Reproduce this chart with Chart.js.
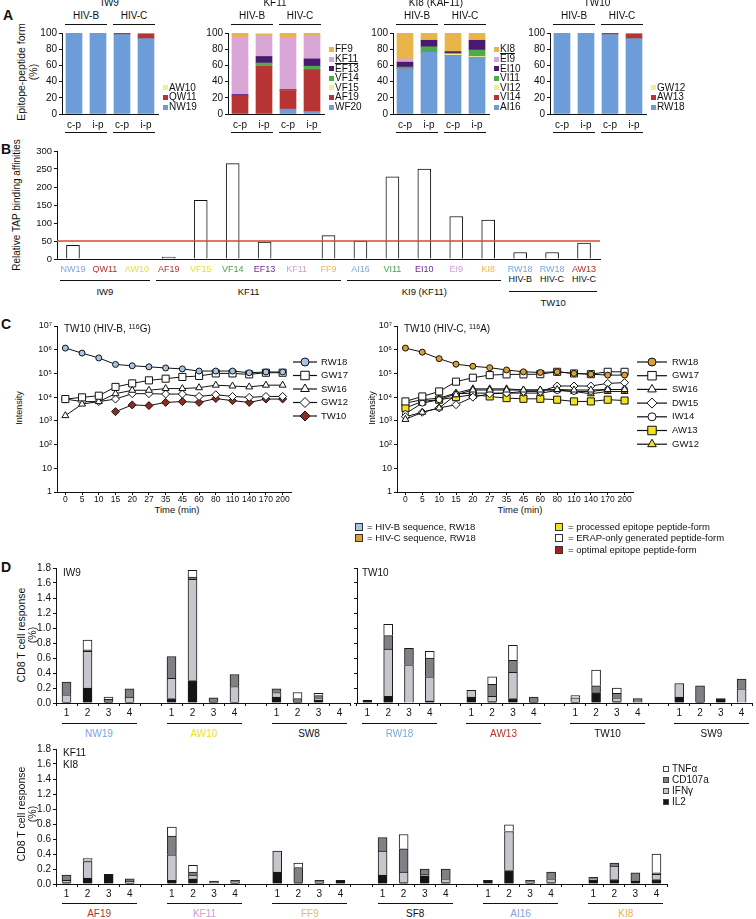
<!DOCTYPE html>
<html>
<head>
<meta charset="utf-8">
<script src="https://cdn.jsdelivr.net/npm/chart.js@4.4.1/dist/chart.umd.min.js"></script>
<style>
  body { margin: 0; background: #fff; }
  #fig { position: relative; width: 756px; height: 919px; overflow: hidden; background: #fff;
         font-family: "Liberation Sans", Arial, sans-serif; color: #111; }
  .t { position: absolute; white-space: nowrap; line-height: 1; }
  .hl { position: absolute; height: 0; border-top: 1.4px solid #111; }
  .sq { position: absolute; box-sizing: border-box; }
  canvas { position: absolute; }
  sup { font-size: 70%; vertical-align: 0.45em; line-height: 0; }
</style>
</head>
<body>
<div id="fig"></div>
<script>
// ---------- panel A : peptide forms (% of total), stacked bottom -> top ----------
const aCats = ['c-p', 'i-p', 'c-p', 'i-p'];
const aClades = ['HIV-B', 'HIV-C'];

const iw9Forms = ['NW19', 'QW11', 'AW10'];
const iw9Pct = [[100, 100, 98, 93], [0, 0, 2, 6], [0, 0, 0, 0.6]];

const kf11Forms = ['WF20', 'AF19', 'VF15', 'VF14', 'EF13', 'KF11', 'FF9'];
const kf11Pct = [
  [0, 0, 6, 3],
  [22, 59, 23, 52],
  [0, 0, 0, 0],
  [0, 4, 0, 4],
  [2, 8, 1, 9],
  [71, 26, 64, 28],
  [5, 2, 6, 4]
];

const ki8Forms = ['AI16', 'VI14', 'VI12', 'VI11', 'EI10', 'EI9', 'KI8'];
const ki8Pct = [
  [56, 76, 72, 70],
  [0, 0, 0, 0],
  [0, 0, 2, 1],
  [2, 7, 1, 8],
  [6, 8, 2, 12],
  [4, 0, 0, 0],
  [32, 9, 23, 9]
];

const tw10Forms = ['RW18', 'AW13', 'GW12'];
const tw10Pct = [[100, 100, 98, 93], [0, 0, 2, 6], [0, 0, 0, 0.6]];

// ---------- panel B : relative TAP binding ----------
const tapCats = ['NW19', 'QW11', 'AW10', 'AF19', 'VF15', 'VF14', 'EF13', 'KF11', 'FF9',
                 'AI16', 'VI11', 'EI10', 'EI9', 'KI8', 'RW18', 'RW18', 'AW13'];
const tapVals = [38, 0, 0, 5, 163, 265, 47, 0, 65, 50, 228, 250, 118, 108, 18, 18, 44];
const tapSub = { 14: 'HIV-B', 15: 'HIV-C', 16: 'HIV-C' };
const tapGroups = [['IW9', 0, 2], ['KF11', 3, 8], ['KI9 (KF11)', 9, 13]];
const tapGroupLow = ['TW10', 14, 16];
const tapThreshold = 50;

// ---------- panel C : intensity over time ----------
const timeLabels = ['0', '5', '10', '15', '20', '27', '35', '45', '60', '80', '110', '140', '170', '200'];
const cLeftNames = ['RW18', 'GW17', 'SW16', 'GW12', 'TW10'];
const cLeftRW18 = [1.17e6, 7.2e5, 4.5e5, 2.4e5, 2.1e5, 1.9e5, 1.7e5, 1.55e5, 1.26e5, 1.26e5, 1.26e5, 1.07e5, 1.15e5, 1.15e5];
const cLeftGW17 = [8.3e3, 9.8e3, 1.15e4, 2.7e4, 3.8e4, 5.1e4, 6.0e4, 7.1e4, 7.8e4, 1.0e5, 1.0e5, 9.1e4, 1.07e5, 1.07e5];
const cLeftSW16 = [1.66e3, 5.1e3, 6.5e3, 1.4e4, 1.95e4, 1.95e4, 2.3e4, 2.3e4, 2.5e4, 3.2e4, 2.95e4, 2.7e4, 3.2e4, 3.2e4];
const cLeftGW12 = [8.3e3, 6.5e3, 6.5e3, 8.3e3, 1.4e4, 1.4e4, 1.35e4, 1.35e4, 1.07e4, 1.26e4, 1.07e4, 9.8e3, 1.07e4, 1.07e4];
const cLeftTW10 = [null, null, null, 2.45e3, 4.7e3, 4.4e3, 6.0e3, 6.5e3, 6.0e3, 8.7e3, 7.1e3, 6.0e3, 8.3e3, 8.3e3];

const cRightNames = ['RW18', 'GW17', 'SW16', 'DW15', 'IW14', 'AW13', 'GW12'];
const cRightRW18 = [1.17e6, 7.9e5, 4.2e5, 2.45e5, 2.0e5, 1.75e5, 1.4e5, 1.17e5, 1.1e5, 1.17e5, 1.0e5, 9.3e4, 8.5e4, 8.5e4];
const cRightGW17 = [6.6e3, 1.07e4, 1.74e4, 4.5e4, 6.6e4, 8.5e4, 9.1e4, 9.1e4, 9.3e4, 1.17e5, 1.0e5, 9.3e4, 1.17e5, 1.17e5];
const cRightSW16 = [1.15e3, 2.3e3, 3.5e3, 1.26e4, 2.0e4, 2.0e4, 2.0e4, 2.0e4, 2.0e4, 2.1e4, 2.0e4, 2.0e4, 2.1e4, 2.1e4];
const cRightDW15 = [1.5e3, 2.3e3, 3.5e3, 4.8e3, 1.0e4, 1.38e4, 1.48e4, 1.74e4, 1.74e4, 2.95e4, 2.95e4, 2.95e4, 3.8e4, 4.1e4];
const cRightIW14 = [2.0e3, 5.6e3, 7.8e3, 1.38e4, 1.48e4, 1.48e4, 1.48e4, 1.48e4, 1.48e4, 1.9e4, 1.74e4, 1.74e4, 2.1e4, 2.1e4];
const cRightAW13 = [3.5e3, 6.6e3, 7.8e3, 1.0e4, 1.26e4, 1.07e4, 9.1e3, 8.5e3, 8.5e3, 7.8e3, 6.6e3, 6.6e3, 7.8e3, 7.2e3];
const cRightGW12 = [5.6e3, 7.8e3, 9.1e3, 1.48e4, 2.24e4, 2.24e4, 2.24e4, 2.0e4, 2.0e4, 2.0e4, 1.74e4, 1.38e4, 1.74e4, 1.74e4];
const logTicks = [1, 10, 1e2, 1e3, 1e4, 1e5, 1e6, 1e7];
const logTickText = ['1', '10', '10²', '10³', '10⁴', '10⁵', '10⁶', '10⁷'];

// ---------- panel D : CD8 T cell response (%), 4 donors per peptide ----------
const donorLabels = ['1', '2', '3', '4'];
const cytokines = ['IL2', 'IFNγ', 'CD107a', 'TNFα'];

const dTopLGroups = ['NW19', 'AW10', 'SW8'];
const dTopL_IL2  = [0.01, 0.20, 0.01, 0.01,  0.06, 0.30, 0.01, 0.01,  0.08, 0.01, 0.04, 0];
const dTopL_IFNg = [0.10, 0.49, 0.00, 0.07,  0.27, 1.35, 0.00, 0.21,  0.06, 0.00, 0.03, 0];
const dTopL_CD107 = [0.17, 0.02, 0.04, 0.11, 0.29, 0.03, 0.06, 0.16,  0.05, 0.05, 0.03, 0];
const dTopL_TNFa = [0.00, 0.13, 0.03, 0.00,  0.00, 0.09, 0.00, 0.00,  0.00, 0.08, 0.03, 0];

const dTopRGroups = ['RW18', 'AW13', 'TW10', 'SW9'];
const dTopR_IL2  = [0.04, 0.09, 0.00, 0.03,  0.08, 0.02, 0.06, 0.01,  0.01, 0.14, 0.02, 0.00,  0.08, 0.01, 0.06, 0.00];
const dTopR_IFNg = [0.00, 0.63, 0.51, 0.32,  0.09, 0.07, 0.35, 0.00,  0.06, 0.00, 0.05, 0.00,  0.18, 0.00, 0.00, 0.19];
const dTopR_CD107 = [0.00, 0.18, 0.22, 0.25, 0.00, 0.16, 0.16, 0.07,  0.00, 0.09, 0.06, 0.06,  0.00, 0.22, 0.00, 0.13];
const dTopR_TNFa = [0.00, 0.15, 0.00, 0.09,  0.00, 0.10, 0.20, 0.00,  0.03, 0.21, 0.07, 0.00,  0.00, 0.00, 0.00, 0.00];

const dBotGroups = ['AF19', 'KF11', 'FF9', 'SF8', 'AI16', 'KI8'];
const dBot_IL2  = [0.02, 0.08, 0.13, 0.01,  0.05, 0.07, 0.00, 0.01,  0.16, 0.02, 0.01, 0.05,
                   0.12, 0.02, 0.11, 0.02,  0.05, 0.18, 0.01, 0.02,  0.05, 0.06, 0.04, 0.06];
const dBot_IFNg = [0.03, 0.22, 0.00, 0.03,  0.34, 0.05, 0.00, 0.02,  0.28, 0.00, 0.02, 0.00,
                   0.32, 0.14, 0.02, 0.05,  0.00, 0.52, 0.02, 0.05,  0.02, 0.18, 0.00, 0.07];
const dBot_CD107 = [0.07, 0.01, 0.00, 0.03, 0.25, 0.04, 0.04, 0.02,  0.00, 0.20, 0.02, 0.00,
                   0.18, 0.31, 0.07, 0.13,  0.00, 0.00, 0.02, 0.09,  0.02, 0.04, 0.11, 0.02];
const dBot_TNFa = [0.00, 0.03, 0.00, 0.00,  0.12, 0.09, 0.00, 0.00,  0.00, 0.06, 0.00, 0.00,
                   0.00, 0.19, 0.00, 0.00,  0.00, 0.09, 0.00, 0.00,  0.00, 0.00, 0.00, 0.25];

// ---------- colours ----------
const INK = '#111';
const C_BLUE = '#6d9dd9', C_RED = '#b83333', C_PALE = '#f4ee8e', C_GREEN = '#4fa94d',
      C_PURPLE = '#4a1a70', C_PINK = '#d8a5d6', C_ORANGE = '#e9b548';
const pepColor = {
  NW19: '#7ea5dd', QW11: '#b43232', AW10: '#e9e032', AF19: '#b43232', VF15: '#e9e032',
  VF14: '#4c9f4c', EF13: '#6b2b8d', KF11: '#d59ad3', FF9: '#e9bd4c', AI16: '#7ea5dd',
  VI11: '#4c9f4c', EI10: '#6b2b8d', EI9: '#d59ad3', KI8: '#e9b548', RW18: '#7ea5dd', AW13: '#b43232'
};
const cytoColor = ['#141414', '#c6c6cc', '#808085', '#ffffff'];

Chart.defaults.font.family = '"Liberation Sans", Arial, sans-serif';
Chart.defaults.color = INK;

const fig = document.getElementById('fig');

function txt(s, x, y, o = {}) {
  const d = document.createElement('div');
  d.className = 't';
  d.innerHTML = s;
  d.style.left = x + 'px';
  d.style.top = y + 'px';
  d.style.fontSize = (o.size || 10) + 'px';
  if (o.color) d.style.color = o.color;
  if (o.bold) d.style.fontWeight = 'bold';
  if (o.under) d.style.textDecoration = 'underline';
  const ax = o.align === 'left' ? '0' : (o.align === 'right' ? '-100%' : '-50%');
  d.style.transform = `translate(${ax},-50%)` + (o.rot ? ' rotate(-90deg)' : '');
  fig.appendChild(d);
  return d;
}
function hline(x1, x2, y, w) {
  const d = document.createElement('div');
  d.className = 'hl';
  d.style.left = x1 + 'px';
  d.style.top = y + 'px';
  d.style.width = (x2 - x1) + 'px';
  if (w) d.style.borderTopWidth = w + 'px';
  fig.appendChild(d);
}
function square(x, y, size, color, border) {
  const d = document.createElement('div');
  d.className = 'sq';
  d.style.left = x + 'px';
  d.style.top = (y - size / 2) + 'px';
  d.style.width = size + 'px';
  d.style.height = size + 'px';
  d.style.background = color;
  if (border) d.style.border = border;
  fig.appendChild(d);
}

// place a chart so its plot area lands on box.x, box.y (w x h)
function place(box, config) {
  const left = box.x - box.yw, top = box.y - box.pt;
  const W = box.yw + box.w + box.pr, H = box.pt + box.h + box.xh;
  const cv = document.createElement('canvas');
  cv.width = W; cv.height = H;
  cv.style.left = left + 'px'; cv.style.top = top + 'px';
  cv.style.width = W + 'px'; cv.style.height = H + 'px';
  fig.appendChild(cv);
  const o = config.options;
  o.responsive = false;
  o.animation = false;
  o.devicePixelRatio = 1;
  o.layout = { padding: { top: box.pt, right: box.pr, left: 0, bottom: 0 } };
  o.plugins = Object.assign({ legend: { display: false }, tooltip: { enabled: false } }, o.plugins || {});
  o.scales.x.afterFit = s => { s.height = box.xh; };
  o.scales.y.afterFit = s => { s.width = box.yw; };
  const ch = new Chart(cv, config);
  ch.$left = left; ch.$top = top;
  return ch;
}
const tickGrid = len => ({ display: true, drawOnChartArea: false, drawTicks: true, tickLength: len, color: INK, lineWidth: 1 });
const noGrid = { display: false, drawTicks: false, tickLength: 0 };
const axisBorder = { display: true, color: INK, width: 1 };
const px = (ch, i) => ch.$left + ch.scales.x.getPixelForValue(i);

// ================= PANEL A =================
txt('A', 8, 15, { size: 14, bold: true });
txt('Epitope-peptide form', 21, 72, { size: 10.5, rot: true });
txt('(%)', 33, 72, { size: 10.5, rot: true });

function stackA(x0, title, titleX, forms, pct, colors, underlined) {
  const ch = place({ x: x0, y: 31, w: 96, h: 83, yw: 28, xh: 16, pt: 6, pr: 2 }, {
    type: 'bar',
    data: {
      labels: aCats,
      datasets: forms.map((f, i) => ({ label: f, data: pct[i], backgroundColor: colors[i], borderWidth: 0, barThickness: 16 }))
    },
    options: {
      scales: {
        x: { stacked: true, grid: noGrid, border: axisBorder, ticks: { font: { size: 10 }, padding: 5 } },
        y: { stacked: true, min: 0, max: 100, grid: tickGrid(3), border: axisBorder,
             ticks: { stepSize: 20, font: { size: 10 }, padding: 2 } }
      }
    }
  });
  txt(title, titleX, 3, { size: 10 });
  aClades.forEach((cl, k) => {
    const a = px(ch, 2 * k) - 9, b = px(ch, 2 * k + 1) + 9;
    txt(cl, (a + b) / 2, 16, { size: 10 });
    hline(a, b, 24);
    hline(a, b, 132);
  });
  // legend: bottom row is the bottom of the stack
  const lx = x0 + 96 + 5;
  forms.forEach((f, i) => {
    const y = 107 - i * 9.6;
    square(lx, y, 5, colors[i]);
    txt(f, lx + 6, y, { size: 10, align: 'left', under: f === underlined });
  });
  return ch;
}
stackA(62, 'IW9', 110, iw9Forms, iw9Pct, [C_BLUE, C_RED, C_PALE]);
stackA(228, 'KF11', 275, kf11Forms, kf11Pct, [C_BLUE, C_RED, C_PALE, C_GREEN, C_PURPLE, C_PINK, C_ORANGE], 'KF11');
stackA(393, 'KI8 (KAF11)', 436, ki8Forms, ki8Pct, [C_BLUE, C_RED, C_PALE, C_GREEN, C_PURPLE, C_PINK, C_ORANGE], 'KI8');
stackA(550, 'TW10', 597, tw10Forms, tw10Pct, [C_BLUE, C_RED, C_PALE]);

// ================= PANEL B =================
txt('B', 6, 149, { size: 14, bold: true });
txt('Relative TAP binding affinities', 17, 205, { size: 10, rot: true });

const refLine = {
  id: 'refLine',
  afterDatasetsDraw(chart, args, opts) {
    const y = chart.scales.y.getPixelForValue(opts.value);
    const { ctx, chartArea } = chart;
    ctx.save();
    ctx.strokeStyle = opts.color;
    ctx.lineWidth = 1.6;
    ctx.beginPath();
    ctx.moveTo(chartArea.left, y);
    ctx.lineTo(chartArea.right, y);
    ctx.stroke();
    ctx.restore();
  }
};
const chB = place({ x: 57, y: 151, w: 543, h: 108, yw: 30, xh: 14, pt: 8, pr: 4 }, {
  type: 'bar',
  data: {
    labels: tapCats,
    datasets: [{ data: tapVals, backgroundColor: '#fff', borderColor: INK, borderWidth: 1, barThickness: 13 }]
  },
  options: {
    plugins: { refLine: { value: tapThreshold, color: '#d9482c' } },
    scales: {
      x: { grid: noGrid, border: axisBorder,
           ticks: { font: { size: 9 }, padding: 5, autoSkip: false, maxRotation: 0,
                    color: c => pepColor[tapCats[c.index]] || INK } },
      y: { min: 0, max: 300, grid: tickGrid(3), border: axisBorder, ticks: { stepSize: 50, font: { size: 9.5 }, padding: 2 } }
    }
  },
  plugins: [refLine]
});
Object.keys(tapSub).forEach(i => txt(tapSub[i], px(chB, +i), 279, { size: 9 }));
tapGroups.forEach(([g, i0, i1]) => {
  const a = px(chB, i0) - 13, b = px(chB, i1) + 13;
  hline(a, b, 280);
  txt(g, (a + b) / 2, 292, { size: 9.5 });
});
{
  const [g, i0, i1] = tapGroupLow;
  const a = px(chB, i0) - 11, b = px(chB, i1) + 13;
  hline(a, b, 291);
  txt(g, (a + b) / 2, 303, { size: 9.5 });
}

// ================= PANEL C =================
txt('C', 6, 324, { size: 14, bold: true });

const lineLegend = {
  id: 'lineLegend',
  afterDraw(chart, args, o) {
    const ctx = chart.ctx;
    chart.data.datasets.forEach((ds, i) => {
      const y = o.y0 + i * o.dy;
      ctx.save();
      ctx.strokeStyle = INK;
      ctx.lineWidth = 1.2;
      ctx.beginPath(); ctx.moveTo(o.x0, y); ctx.lineTo(o.x0 + o.len, y); ctx.stroke();
      ctx.fillStyle = ds.pointBackgroundColor;
      ctx.lineWidth = 1;
      Chart.helpers.drawPoint(ctx, { pointStyle: ds.pointStyle, radius: ds.pointRadius + 1, rotation: 0, borderWidth: 1 },
                              o.x0 + o.len / 2, y);
      ctx.fillStyle = INK;
      ctx.font = '9.5px "Liberation Sans", Arial, sans-serif';
      ctx.textBaseline = 'middle';
      ctx.fillText(ds.label, o.x0 + o.len + o.gap, y);
      ctx.restore();
    });
  }
};
const marker = { circle: 3, rect: 5, triangle: 4, rectRot: 4 };
function series(label, data, style, fill) {
  return { label, data, pointStyle: style, pointRadius: marker[style], pointBackgroundColor: fill,
           pointBorderColor: INK, pointBorderWidth: 1, borderColor: INK, borderWidth: 1, tension: 0, spanGaps: false };
}
function timeChart(x0, w, datasets, legendOpts) {
  return place({ x: x0, y: 326, w: w, h: 166, yw: 32, xh: 12, pt: 8, pr: legendOpts.pr }, {
    type: 'line',
    data: { labels: timeLabels, datasets },
    options: {
      plugins: { lineLegend: legendOpts },
      scales: {
        x: { offset: true, grid: tickGrid(3), border: axisBorder,
             ticks: { font: { size: 8.5 }, padding: 0, autoSkip: false, maxRotation: 0 } },
        y: { type: 'logarithmic', min: 1, max: 1e7, grid: tickGrid(3), border: axisBorder,
             afterBuildTicks: s => { s.ticks = logTicks.map(v => ({ value: v })); },
             ticks: { font: { size: 9 }, padding: 2, callback: v => logTickText[logTicks.indexOf(v)] } }
      }
    },
    plugins: [lineLegend]
  });
}
timeChart(57, 234, [
  series(cLeftNames[0], cLeftRW18, 'circle', '#a9c3e6'),
  series(cLeftNames[1], cLeftGW17, 'rect', '#fff'),
  series(cLeftNames[2], cLeftSW16, 'triangle', '#fff'),
  series(cLeftNames[3], cLeftGW12, 'rectRot', '#fff'),
  series(cLeftNames[4], cLeftTW10, 'rectRot', '#8e2b1f')
], { pr: 70, x0: 268, y0: 44, dy: 13.5, len: 24, gap: 4 });
timeChart(397, 236, [
  series(cRightNames[0], cRightRW18, 'circle', '#d9a033'),
  series(cRightNames[1], cRightGW17, 'rect', '#fff'),
  series(cRightNames[2], cRightSW16, 'triangle', '#fff'),
  series(cRightNames[3], cRightDW15, 'rectRot', '#fff'),
  series(cRightNames[4], cRightIW14, 'circle', '#fff'),
  series(cRightNames[5], cRightAW13, 'rect', '#f2e21c'),
  series(cRightNames[6], cRightGW12, 'triangle', '#f2e21c')
], { pr: 75, x0: 272, y0: 44, dy: 13.7, len: 30, gap: 5 });

txt('TW10 (HIV-B, <sup>116</sup>G)', 64, 329, { size: 10, align: 'left' });
txt('TW10 (HIV-C, <sup>116</sup>A)', 404, 329, { size: 10, align: 'left' });
txt('Intensity', 19, 408, { size: 9, rot: true });
txt('Intensity', 372, 408, { size: 9, rot: true });
txt('Time (min)', 177, 510, { size: 9.5 });
txt('Time (min)', 520, 510, { size: 9.5 });

square(355, 527, 8, '#a9c3e6', '1px solid #333');
square(355, 538, 8, '#d9a033', '1px solid #333');
txt('= HIV-B sequence, RW18', 367, 527, { size: 9.5, align: 'left' });
txt('= HIV-C sequence, RW18', 367, 538, { size: 9.5, align: 'left' });
square(555, 527, 8, '#f2e21c', '1px solid #333');
square(555, 538, 8, '#fff', '1px solid #333');
square(555, 550, 8, '#a8221c', '1px solid #333');
txt('= processed epitope peptide-form', 568, 527, { size: 9.5, align: 'left' });
txt('= ERAP-only generated peptide-form', 568, 538, { size: 9.5, align: 'left' });
txt('= optimal epitope peptide-form', 568, 550, { size: 9.5, align: 'left' });

// ================= PANEL D =================
txt('D', 6, 567, { size: 14, bold: true });

function withGaps(arr) {
  const out = [];
  arr.forEach((v, i) => { if (i > 0 && i % 4 === 0) out.push(null); out.push(v); });
  return out;
}
function slotLabels(nGroups) {
  const out = [];
  for (let g = 0; g < nGroups; g++) { if (g) out.push(''); out.push(...donorLabels); }
  return out;
}
function cytoChart(box, groups, il2, ifng, cd107, tnfa, showY) {
  const vals = [il2, ifng, cd107, tnfa];
  return place(box, {
    type: 'bar',
    data: {
      labels: slotLabels(groups.length),
      datasets: cytokines.map((c, i) => ({ label: c, data: withGaps(vals[i]), backgroundColor: cytoColor[i],
                                           borderColor: '#1a1a1a', borderWidth: 1, barThickness: 9 }))
    },
    options: {
      scales: {
        x: { stacked: true, grid: Object.assign(tickGrid(3), { offset: true }), border: axisBorder,
             ticks: { font: { size: 10 }, padding: 1, autoSkip: false, maxRotation: 0 } },
        y: { stacked: true, min: 0, max: 1.8, grid: tickGrid(3), border: axisBorder,
             ticks: { display: showY, stepSize: 0.2, font: { size: 10 }, padding: 2, callback: v => v.toFixed(1) } }
      }
    }
  });
}
function groupMarks(ch, groups, yLine, yText) {
  groups.forEach((g, gi) => {
    const a = px(ch, gi * 5) - 5, b = px(ch, gi * 5 + 3) + 7;
    hline(a, b, yLine);
    txt(g, (a + b) / 2, yText, { size: 10, color: pepColor[g] || INK });
  });
}
const dTL = cytoChart({ x: 56, y: 568, w: 294, h: 135, yw: 26, xh: 14, pt: 8, pr: 2 },
                      dTopLGroups, dTopL_IL2, dTopL_IFNg, dTopL_CD107, dTopL_TNFa, true);
const dTR = cytoChart({ x: 357, y: 568, w: 395, h: 135, yw: 4, xh: 14, pt: 8, pr: 2 },
                      dTopRGroups, dTopR_IL2, dTopR_IFNg, dTopR_CD107, dTopR_TNFa, false);
const dB = cytoChart({ x: 56, y: 749, w: 611, h: 135, yw: 26, xh: 14, pt: 8, pr: 2 },
                     dBotGroups, dBot_IL2, dBot_IFNg, dBot_CD107, dBot_TNFa, true);
groupMarks(dTL, dTopLGroups, 723, 734);
groupMarks(dTR, dTopRGroups, 723, 734);
groupMarks(dB, dBotGroups, 903, 914);

txt('IW9', 63, 573, { size: 10, align: 'left' });
txt('TW10', 362, 573, { size: 10, align: 'left' });
txt('KF11', 63, 753, { size: 10, align: 'left' });
txt('KI8', 63, 765, { size: 10, align: 'left' });
txt('CD8 T cell response', 21, 635, { size: 10.5, rot: true });
txt('(%)', 32, 635, { size: 10.5, rot: true });
txt('CD8 T cell response', 21, 814, { size: 10.5, rot: true });
txt('(%)', 32, 814, { size: 10.5, rot: true });

// cytokine legend, top entry first
const legendOrder = [3, 2, 1, 0];
legendOrder.forEach((ci, r) => {
  const y = 769 + r * 11;
  square(663, y, 6, cytoColor[ci], '1px solid #444');
  txt(cytokines[ci], 672, y, { size: 10, align: 'left' });
});
</script>
</body>
</html>
